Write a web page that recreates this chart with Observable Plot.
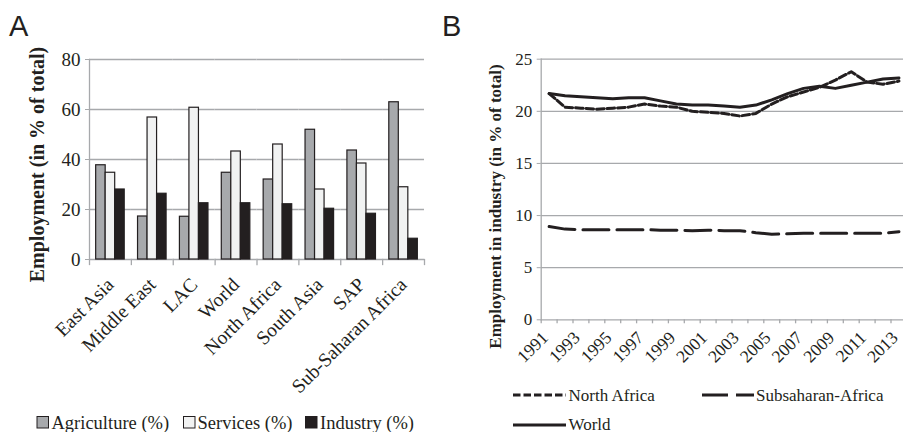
<!DOCTYPE html>
<html>
<head>
<meta charset="utf-8">
<script src="https://cdn.jsdelivr.net/npm/d3@7"></script>
<script src="https://cdn.jsdelivr.net/npm/@observablehq/plot@0.6"></script>
<style>
  html, body { margin: 0; padding: 0; background: #fff; overflow: hidden; }
  #wrap { position: relative; width: 903px; height: 432px; overflow: hidden; }
  #wrap > * { position: absolute; }
  #panelA { left: 0; top: 0; width: 450px; }
  #panelB { left: 450px; top: 0; width: 457px; }
  #overlay { left: 0; top: 0; pointer-events: none; }
  #wrap svg { max-width: none !important; }
</style>
</head>
<body>
<div id="wrap">
  <div id="panelA"></div>
  <div id="panelB"></div>
  <svg id="overlay" width="903" height="432"></svg>
</div>
<script>
// ---------- Panel A data ----------
const regions = ["East Asia", "Middle East", "LAC", "World", "North Africa", "South Asia", "SAP", "Sub-Saharan Africa"];
const sectors = ["Agriculture (%)", "Services (%)", "Industry (%)"];
const agriculture = [37.7, 17.2, 17.1, 34.7, 32.0, 51.9, 43.6, 62.9];
const services    = [34.7, 56.8, 60.7, 43.2, 46.0, 28.0, 38.4, 28.9];
const industry    = [28.0, 26.3, 22.5, 22.5, 22.1, 20.3, 18.3, 8.3];
const yTicksA = [0, 20, 40, 60, 80];

// ---------- Panel B data ----------
const years = [1991, 1992, 1993, 1994, 1995, 1996, 1997, 1998, 1999, 2000, 2001, 2002,
               2003, 2004, 2005, 2006, 2007, 2008, 2009, 2010, 2011, 2012, 2013];
const yearLabels = [1991, 1993, 1995, 1997, 1999, 2001, 2003, 2005, 2007, 2009, 2011, 2013];
const northAfrica = [21.7, 20.4, 20.3, 20.2, 20.3, 20.4, 20.7, 20.5, 20.4, 20.0, 19.9, 19.8,
                     19.55, 19.8, 20.7, 21.4, 21.85, 22.3, 23.0, 23.8, 22.8, 22.6, 22.9];
const subsaharan  = [8.95, 8.7, 8.65, 8.65, 8.65, 8.65, 8.65, 8.6, 8.6, 8.55, 8.6, 8.55,
                     8.55, 8.35, 8.2, 8.25, 8.3, 8.3, 8.3, 8.3, 8.3, 8.3, 8.45];
const world       = [21.7, 21.5, 21.4, 21.3, 21.2, 21.3, 21.3, 21.0, 20.7, 20.6, 20.6, 20.5,
                     20.4, 20.6, 21.1, 21.7, 22.2, 22.4, 22.2, 22.5, 22.8, 23.1, 23.2];
const yTicksB = [0, 5, 10, 15, 20, 25];
const seriesB = ["North Africa", "Subsaharan-Africa", "World"];

// ---------- styles ----------
const ink = "#231f20";
const grid = "#a7a9ac";
const fills = ["#a7a9ac", "#f1f2f2", "#231f20"];
const serif = "'Liberation Serif', 'Times New Roman', serif";

// ---------- Panel A ----------
const sectorValues = [agriculture, services, industry];
const barRows = regions.flatMap((r, i) => sectors.map((s, j) => ({region: r, sector: s, value: sectorValues[j][i]})));

const plotA = Plot.plot({
  width: 450, height: 432,
  marginTop: 59, marginBottom: 173, marginLeft: 89, marginRight: 26,
  style: {fontFamily: serif, color: ink, background: "transparent", overflow: "visible"},
  fx: {domain: regions, padding: 0, round: false, label: null},
  x: {domain: sectors, paddingInner: 0, paddingOuter: 0.7, round: false, axis: null, label: null},
  y: {domain: [0, 80], label: null},
  color: {domain: sectors, range: fills},
  marks: [
    Plot.ruleY(yTicksA, {stroke: grid, strokeWidth: 1.3}),
    Plot.frame({anchor: "left", facetAnchor: "left", stroke: grid, strokeWidth: 1.3}),
    Plot.frame({anchor: "left", stroke: grid, strokeWidth: 1.3, insetTop: 200, insetBottom: -5}),
    Plot.frame({anchor: "right", facetAnchor: "right", stroke: grid, strokeWidth: 1.3, insetTop: 200, insetBottom: -5}),
    Plot.barY(barRows, {fx: "region", x: "sector", y: "value", fill: "sector", stroke: ink, strokeWidth: 1.2}),
    Plot.axisY({ticks: yTicksA, tickSize: 4, tickPadding: 5, fontSize: 19, stroke: grid, fill: ink, label: null}),
    Plot.axisFx({anchor: "bottom", tickRotate: -45, tickSize: 0, tickPadding: 22, dx: 0, fontSize: 19.5, fill: ink, label: null}),
    Plot.text(["Employment (in % of total)"], {frameAnchor: "left", facetAnchor: "left", textAnchor: "middle",
      rotate: -90, dx: -52, dy: 5, fontSize: 20, fontWeight: "bold", fill: ink, fontFamily: serif})
  ]
});
document.getElementById("panelA").appendChild(plotA);

// ---------- Panel B ----------
const lineRows = (vals, name) => years.map((y, i) => ({year: y, value: vals[i], series: name}));
const rowsNA = lineRows(northAfrica, seriesB[0]);
const rowsSSA = lineRows(subsaharan, seriesB[1]);
const rowsW = lineRows(world, seriesB[2]);

const widthB = 457, marginLeftB = 90.7, marginRightB = 0.6;
const stepB = (widthB - marginLeftB - marginRightB) / years.length;

const plotB = Plot.plot({
  width: widthB, height: 432,
  marginTop: 58.7, marginBottom: 112.7, marginLeft: marginLeftB, marginRight: marginRightB,
  style: {fontFamily: serif, color: ink, background: "transparent", overflow: "visible"},
  x: {type: "point", domain: years, padding: 0.5, round: false, label: null},
  y: {domain: [0, 25], label: null},
  marks: [
    Plot.ruleY(yTicksB, {stroke: grid, strokeWidth: 1.3}),
    Plot.frame({anchor: "left", stroke: grid, strokeWidth: 1.3}),
    Plot.axisX({ticks: years, tickSize: 4, dx: -stepB / 2, text: null, stroke: grid, strokeWidth: 1.3, label: null}),
    Plot.axisX({ticks: yearLabels, tickSize: 0, tickRotate: -45, tickPadding: 6, dx: -4, dy: 9, fontSize: 17.5, fill: ink,
      tickFormat: d => String(d), label: null}),
    Plot.axisY({ticks: yTicksB, tickSize: 4, tickPadding: 5, fontSize: 17, stroke: grid, fill: ink, label: null}),
    Plot.line(rowsSSA, {x: "year", y: "value", stroke: ink, strokeWidth: 3, strokeDasharray: "26,8"}),
    Plot.line(rowsNA, {x: "year", y: "value", stroke: ink, strokeWidth: 3, strokeDasharray: "7.5,3"}),
    Plot.line(rowsW, {x: "year", y: "value", stroke: ink, strokeWidth: 3}),
    Plot.text(["Employment in industry (in % of total)"], {frameAnchor: "left", textAnchor: "middle", rotate: -90,
      dx: -46, dy: 17, fontSize: 17, fontWeight: "bold", fill: ink, fontFamily: serif})
  ]
});
document.getElementById("panelB").appendChild(plotB);

// ---------- Overlay: panel letters and legends ----------
const ov = d3.select("#overlay");
ov.append("text").attr("x", 9).attr("y", 36).attr("font-family", "'Liberation Sans', Arial, sans-serif")
  .attr("font-size", 29).attr("fill", ink).text("A");
ov.append("text").attr("x", 442).attr("y", 36).attr("font-family", "'Liberation Sans', Arial, sans-serif")
  .attr("font-size", 29).attr("fill", ink).text("B");

// Legend A
const legA = [{x: 37, tx: 51.5}, {x: 183.5, tx: 197.5}, {x: 305.5, tx: 320}];
sectors.forEach((s, i) => {
  ov.append("rect").attr("x", legA[i].x).attr("y", 416.5).attr("width", 11.5).attr("height", 11.5)
    .attr("fill", fills[i]).attr("stroke", ink).attr("stroke-width", 1);
  ov.append("text").attr("x", legA[i].tx).attr("y", 428.5).attr("font-family", serif)
    .attr("font-size", 18.5).attr("fill", ink).text(s);
});

// Legend B
const legB = [
  {x1: 513, x2: 566, y: 395, tx: 568.5, ty: 400.5, dash: "7.5,3"},
  {x1: 702, x2: 754, y: 395, tx: 756, ty: 400.5, dash: "26,8"},
  {x1: 513, x2: 566, y: 425, tx: 568.5, ty: 429.5, dash: null}
];
seriesB.forEach((s, i) => {
  const L = legB[i];
  const ln = ov.append("line").attr("x1", L.x1).attr("x2", L.x2).attr("y1", L.y).attr("y2", L.y)
    .attr("stroke", ink).attr("stroke-width", 3);
  if (L.dash) ln.attr("stroke-dasharray", L.dash);
  ov.append("text").attr("x", L.tx).attr("y", L.ty).attr("font-family", serif)
    .attr("font-size", 17).attr("fill", ink).text(s);
});
</script>
</body>
</html>
